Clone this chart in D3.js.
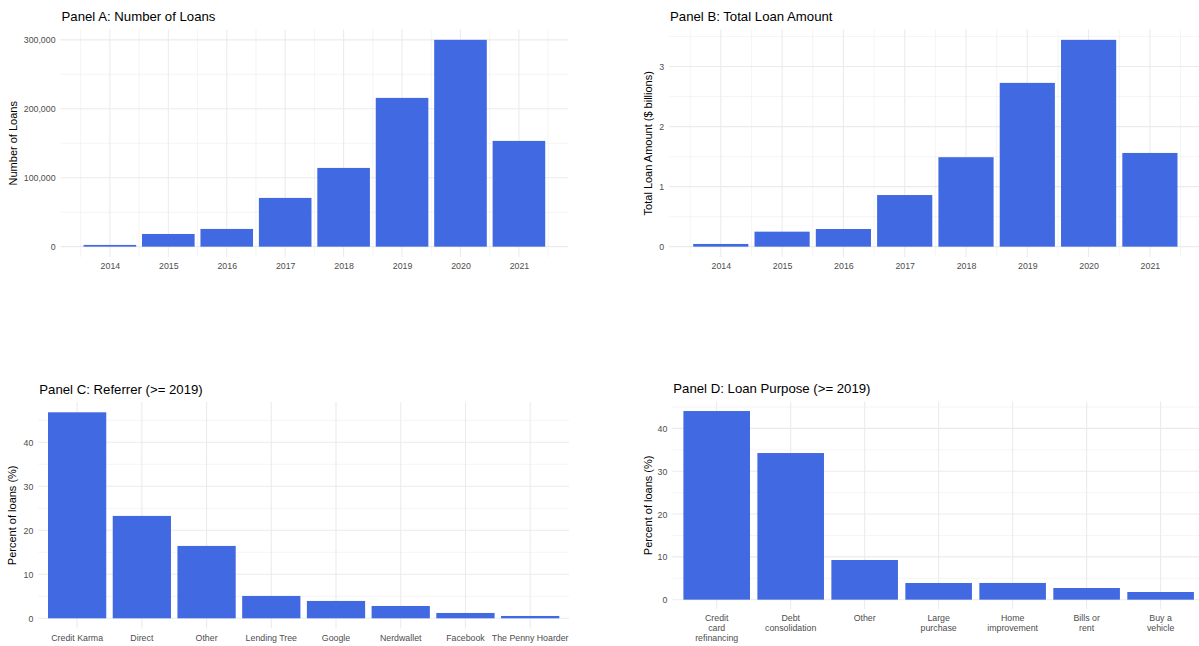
<!DOCTYPE html>
<html>
<head>
  <title>Loans Panels</title>
  <style>
    body { margin: 0; background: #fff; }
    svg { font-family: "Liberation Sans", Arial, sans-serif; }
    .bar { fill: #4169E1; }
    .grid line { stroke: #EBEBEB; }
    .tick text { fill: #4D4D4D; font-size: 8.8px; }
  </style>
</head>
<body>
  <script src="https://d3js.org/d3.v7.min.js"></script>
  <script>
    // Data
    var years = [2014, 2015, 2016, 2017, 2018, 2019, 2020, 2021];
    var loanCounts = [2500, 18400, 25700, 70700, 114200, 215800, 300000, 153400];
    var loanAmounts = [0.045, 0.25, 0.294, 0.86, 1.49, 2.728, 3.445, 1.561];

    var referrers = ["Credit Karma", "Direct", "Other", "Lending Tree", "Google",
      "Nerdwallet", "Facebook", "The Penny Hoarder"];
    var referrerPct = [46.8, 23.26, 16.44, 5.08, 3.94, 2.8, 1.21, 0.53];

    var purposes = ["Credit\ncard\nrefinancing", "Debt\nconsolidation", "Other",
      "Large\npurchase", "Home\nimprovement", "Bills or\nrent", "Buy a\nvehicle"];
    var purposePct = [44.05, 34.24, 9.26, 3.89, 3.9, 2.72, 1.79];

    var countTicks = [0, 100000, 200000, 300000];
    var amountTicks = [0, 1, 2, 3];
    var pctTicks = [0, 10, 20, 30, 40];

    var svg = d3.select("body").append("svg")
      .attr("width", 1199)
      .attr("height", 646);

    // minor breaks halfway between major ones, kept inside the limits
    function minorBreaks(major, lo, hi) {
      var step = major[1] - major[0];
      var out = [];
      for (var v = major[0] - step / 2; v <= hi; v += step) {
        if (v >= lo) out.push(v);
      }
      return out;
    }

    function drawPanel(p) {
      var g = svg.append("g");
      var maxV = d3.max(p.values);
      var y = d3.scaleLinear()
        .domain([-0.05 * maxV, 1.05 * maxV])
        .range([p.bottom, p.top]);

      var x, bandW, center;
      if (p.continuous) {
        var lo = d3.min(p.cats) - 0.45, hi = d3.max(p.cats) + 0.45;
        var pad = (hi - lo) * 0.05;
        x = d3.scaleLinear().domain([lo - pad, hi + pad]).range([p.left, p.right]);
        bandW = x(0.9) - x(0);
        center = function (c) { return x(c); };
      } else {
        x = d3.scaleBand().domain(p.cats).range([p.left, p.right])
          .paddingInner(0.1).paddingOuter(0.15);
        bandW = x.bandwidth();
        center = function (c) { return x(c) + bandW / 2; };
      }

      // grid: minor first, then major
      var grid = g.append("g").attr("class", "grid");
      var yd = y.domain();
      grid.selectAll(".ymin")
        .data(minorBreaks(p.ticks, yd[0], yd[1]))
        .enter().append("line")
        .attr("x1", p.left).attr("x2", p.right)
        .attr("y1", function (d) { return y(d); })
        .attr("y2", function (d) { return y(d); })
        .attr("stroke-width", 0.55);
      if (p.continuous) {
        var xd = x.domain();
        grid.selectAll(".xmin")
          .data(minorBreaks(p.cats, xd[0], xd[1]))
          .enter().append("line")
          .attr("y1", p.top).attr("y2", p.bottom)
          .attr("x1", function (d) { return x(d); })
          .attr("x2", function (d) { return x(d); })
          .attr("stroke-width", 0.55);
      }
      grid.selectAll(".ymaj")
        .data(p.ticks)
        .enter().append("line")
        .attr("x1", p.left).attr("x2", p.right)
        .attr("y1", function (d) { return y(d); })
        .attr("y2", function (d) { return y(d); })
        .attr("stroke-width", 1.07);
      grid.selectAll(".xmaj")
        .data(p.cats)
        .enter().append("line")
        .attr("y1", p.top).attr("y2", p.bottom)
        .attr("x1", function (d) { return center(d); })
        .attr("x2", function (d) { return center(d); })
        .attr("stroke-width", 1.07);

      // bars
      g.selectAll(".bar")
        .data(p.values)
        .enter().append("rect")
        .attr("class", "bar")
        .attr("x", function (d, i) { return center(p.cats[i]) - bandW / 2; })
        .attr("width", bandW)
        .attr("y", function (d) { return y(d); })
        .attr("height", function (d) { return y(0) - y(d); });

      // y axis
      var yAxis = g.append("g")
        .attr("transform", "translate(" + (p.left - 4.95) + ",0)")
        .call(d3.axisLeft(y).tickValues(p.ticks).tickSize(0).tickPadding(0)
          .tickFormat(p.yFormat));
      yAxis.select(".domain").remove();
      yAxis.selectAll("text").attr("dy", "0.34em");

      // x axis
      var xScale = p.continuous ? x : x.copy().range([p.left, p.right]);
      var xAxis = g.append("g")
        .attr("transform", "translate(0," + (p.bottom + 4.95) + ")")
        .call(d3.axisBottom(x).tickValues(p.cats).tickSize(0).tickPadding(0)
          .tickFormat(function (d) { return String(d); }));
      xAxis.select(".domain").remove();
      xAxis.selectAll("text").each(function (d) {
        var t = d3.select(this);
        var lines = String(d).split("\n");
        t.text(null).attr("y", 0).attr("dy", null);
        lines.forEach(function (ln, i) {
          t.append("tspan").attr("x", 0).attr("y", 7 + i * 10).text(ln);
        });
      });

      // y axis title
      svg.append("text")
        .attr("transform", "translate(" + p.yTitleX + "," + ((p.top + p.bottom) / 2) + ") rotate(-90)")
        .attr("text-anchor", "middle")
        .attr("dy", "0.35em")
        .style("font-size", "11px")
        .attr("fill", "#000")
        .text(p.yTitle);

      // panel title
      svg.append("text")
        .attr("x", p.left + 1)
        .attr("y", p.top - 8.5)
        .style("font-size", "13.2px")
        .attr("fill", "#000")
        .text(p.title);
    }

    drawPanel({
      title: "Panel A: Number of Loans", yTitle: "Number of Loans",
      cats: years, values: loanCounts, ticks: countTicks, continuous: true,
      yFormat: d3.format(","),
      left: 60.5, right: 568.3, top: 29.5, bottom: 257, yTitleX: 13.5
    });
    drawPanel({
      title: "Panel B: Total Loan Amount", yTitle: "Total Loan Amount ($ billions)",
      cats: years, values: loanAmounts, ticks: amountTicks, continuous: true,
      yFormat: d3.format("d"),
      left: 669, right: 1201.7, top: 29.5, bottom: 257, yTitleX: 647.7
    });
    drawPanel({
      title: "Panel C: Referrer (>= 2019)", yTitle: "Percent of loans (%)",
      cats: referrers, values: referrerPct, ticks: pctTicks, continuous: false,
      yFormat: d3.format("d"),
      left: 38.3, right: 569, top: 402, bottom: 628.6, yTitleX: 12.3
    });
    drawPanel({
      title: "Panel D: Loan Purpose (>= 2019)", yTitle: "Percent of loans (%)",
      cats: purposes, values: purposePct, ticks: pctTicks, continuous: false,
      yFormat: d3.format("d"),
      left: 672.3, right: 1205, top: 401.6, bottom: 609.1, yTitleX: 647.7
    });
  </script>
</body>
</html>
